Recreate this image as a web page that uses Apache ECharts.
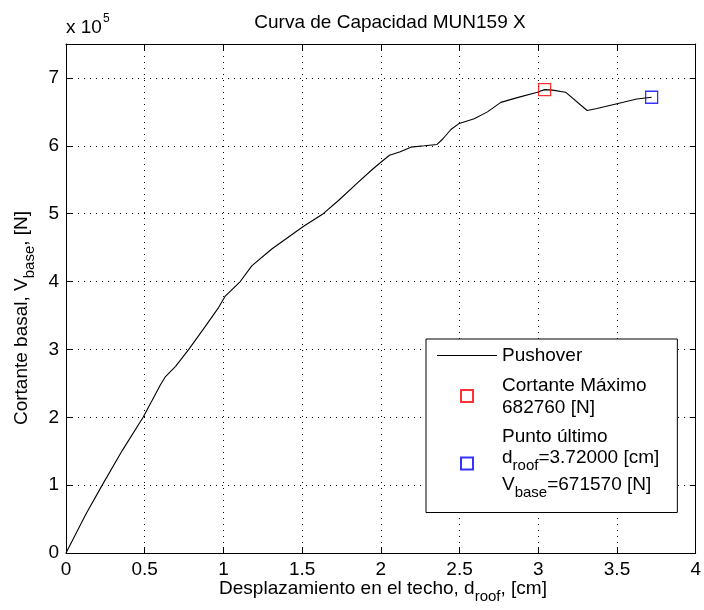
<!DOCTYPE html>
<html>
<head>
<meta charset="utf-8">
<script src="https://cdn.jsdelivr.net/npm/echarts@6/dist/echarts.min.js"></script>
<style>
  html, body { margin: 0; padding: 0; background: #fff; }
  #chart { width: 704px; height: 610px; }
</style>
</head>
<body>
<div id="chart"></div>
<script>
// Pushover capacity curve: roof displacement [cm] against base shear [N]
const displacementCm = [
  0, 0.126, 0.23, 0.36, 0.49, 0.60, 0.632, 0.696, 0.78, 0.885, 0.97, 1.01,
  1.107, 1.18, 1.307, 1.507, 1.634, 1.729, 1.855, 1.94, 1.996, 2.055, 2.119,
  2.19, 2.277, 2.357, 2.393, 2.445, 2.498, 2.593, 2.677, 2.762, 2.867, 2.994,
  3.04, 3.09, 3.173, 3.31, 3.373, 3.5, 3.626, 3.72
];
const baseShearN = [
  0, 57000, 100000, 152000, 200000, 248000, 260000, 275000, 300000, 334000, 362000, 378000,
  400000, 423000, 448000, 481000, 500000, 519000, 546000, 564000, 575000, 586000, 591000,
  598000, 600000, 602000, 610000, 624000, 633000, 640000, 650000, 664000, 671000, 679000,
  682760, 682000, 679000, 652000, 655000, 662000, 669000, 671570
];

// Maximum base shear
const maxPointCm = [3.04];
const maxPointN = [682760];

// Ultimate point
const ultimatePointCm = [3.72];
const ultimatePointN = [671570];

// Axis tick labels
const xTickLabels = ['0', '0.5', '1', '1.5', '2', '2.5', '3', '3.5', '4'];
const yTickLabels = ['0', '1', '2', '3', '4', '5', '6', '7'];

const FONT = '"Liberation Sans", Arial, Helvetica, sans-serif';
const BIG = 19;
const SMALL = 15;

// Rich-text styles: main text, subscript, superscript
const textRich = {
  m: { fontFamily: FONT, fontSize: BIG, fill: '#000', verticalAlign: 'top', padding: [2, 0, 0, 0], lineHeight: 22 },
  s: { fontFamily: FONT, fontSize: SMALL, fill: '#000', verticalAlign: 'top', padding: [12, 0, 0, 0], lineHeight: 27 },
  mx: { fontFamily: FONT, fontSize: BIG, fill: '#000', verticalAlign: 'top', padding: [6, 0, 0, 0], lineHeight: 26 },
  p: { fontFamily: FONT, fontSize: 12, fill: '#000', verticalAlign: 'top', padding: [1, 0, 0, 1], lineHeight: 26 }
};

const legendRich = {
  m: { fontFamily: FONT, fontSize: BIG, color: '#000', verticalAlign: 'top', padding: [2, 0, 0, 0], lineHeight: 22 },
  n: { fontFamily: FONT, fontSize: BIG, color: '#000', verticalAlign: 'top', padding: [2, 0, 0, 0], lineHeight: 21 },
  s: { fontFamily: FONT, fontSize: SMALL, color: '#000', verticalAlign: 'top', padding: [12, 0, 0, 0], lineHeight: 27 },
  t: { fontFamily: FONT, fontSize: SMALL, color: '#000', verticalAlign: 'top', padding: [12, 0, 0, 0], lineHeight: 28 }
};

const chart = echarts.init(document.getElementById('chart'), null, { renderer: 'canvas' });

const gridLine = { show: true, lineStyle: { color: '#000', width: 1, type: [1, 5] } };
const axisLine = { show: true, onZero: false, lineStyle: { color: '#000', width: 1 } };
const innerTick = { show: true, inside: true, length: 6, lineStyle: { color: '#000', width: 1 } };

chart.setOption({
  animation: false,
  backgroundColor: '#fff',
  grid: { left: 66, right: 5, top: 44, bottom: 57, containLabel: false },
  xAxis: [
    {
      type: 'value', min: 0, max: 4, interval: 0.5, position: 'bottom',
      axisLine: axisLine, axisTick: innerTick, splitLine: gridLine,
      axisLabel: {
        margin: 7, color: '#000', fontFamily: FONT, fontSize: BIG,
        formatter: v => xTickLabels[Math.round(v / 0.5)] ?? ''
      }
    },
    {
      type: 'value', min: 0, max: 4, interval: 0.5, position: 'top',
      axisLine: axisLine, axisTick: innerTick, splitLine: { show: false }, axisLabel: { show: false }
    }
  ],
  yAxis: [
    {
      type: 'value', min: 0, max: 750000, interval: 100000, position: 'left',
      axisLine: axisLine, axisTick: innerTick, splitLine: gridLine,
      axisLabel: {
        margin: 7, color: '#000', fontFamily: FONT, fontSize: BIG, showMaxLabel: false,
        formatter: v => yTickLabels[Math.round(v / 100000)] ?? ''
      }
    },
    {
      type: 'value', min: 0, max: 750000, interval: 100000, position: 'right',
      axisLine: axisLine, axisTick: innerTick, splitLine: { show: false }, axisLabel: { show: false }
    }
  ],
  legend: {
    orient: 'vertical',
    left: 426,
    top: 339,
    align: 'left',
    padding: [5.5, 18, 12, 11],
    itemGap: 8.5,
    itemWidth: 60,
    itemHeight: 12,
    symbolKeepAspect: true,
    backgroundColor: '#fff',
    borderColor: '#000',
    borderWidth: 1,
    borderRadius: 0,
    selectedMode: false,
    data: [
      { name: 'Pushover', icon: 'path://M0,0H60V1.2H0Z' },
      { name: 'Cortante Máximo', icon: 'path://M0,0H12V12H0Z' },
      { name: 'Punto último', icon: 'path://M0,0H12V12H0Z' }
    ],
    textStyle: { fontFamily: FONT, fontSize: BIG, color: '#000', rich: legendRich },
    formatter: name => {
      if (name === 'Pushover') return '{m|Pushover}';
      if (name === 'Cortante Máximo') {
        return '{m|Cortante Máximo}\n{m|' + maxPointN[0] + ' [N]}';
      }
      return '{n|Punto último}\n{m|d}{s|roof}{m|=' + ultimatePointCm[0].toFixed(5) + ' [cm]}\n' +
             '{m|V}{t|base}{m|=' + ultimatePointN[0] + ' [N]}';
    }
  },
  graphic: [
    {
      type: 'text', x: 390, y: 23, silent: true,
      style: { text: 'Curva de Capacidad MUN159 X', fontFamily: FONT, fontSize: BIG, fill: '#000', align: 'center', verticalAlign: 'middle' }
    },
    {
      type: 'text', x: 66, y: 12, silent: true,
      style: { text: '{mx|x 10}{p|5}', rich: textRich, align: 'left', verticalAlign: 'top' }
    },
    {
      type: 'text', x: 383, y: 577.5, silent: true,
      style: { text: '{m|Desplazamiento en el techo, d}{s|roof}{m|, [cm]}', rich: textRich, align: 'center', verticalAlign: 'top' }
    },
    {
      type: 'text', x: 10, y: 318, rotation: Math.PI / 2, silent: true,
      style: { text: '{m|Cortante basal, V}{s|base}{m|, [N]}', rich: textRich, align: 'center', verticalAlign: 'top' }
    }
  ],
  series: [
    {
      name: 'Pushover',
      type: 'line',
      xAxisIndex: 0, yAxisIndex: 0,
      data: displacementCm.map((d, i) => [d, baseShearN[i]]),
      symbol: 'none',
      lineStyle: { color: '#000', width: 1.1 },
      itemStyle: { color: '#000' },
      silent: true,
      z: 2
    },
    {
      name: 'Cortante Máximo',
      type: 'scatter',
      xAxisIndex: 0, yAxisIndex: 0,
      data: maxPointCm.map((d, i) => [d, maxPointN[i]]),
      symbol: 'rect',
      symbolSize: 12,
      itemStyle: { color: 'rgba(255,255,255,0)', borderColor: '#ff0000', borderWidth: 1.3 },
      silent: true,
      z: 3
    },
    {
      name: 'Punto último',
      type: 'scatter',
      xAxisIndex: 0, yAxisIndex: 0,
      data: ultimatePointCm.map((d, i) => [d, ultimatePointN[i]]),
      symbol: 'rect',
      symbolSize: 12,
      itemStyle: { color: 'rgba(255,255,255,0)', borderColor: '#0000ff', borderWidth: 1.3 },
      silent: true,
      z: 3
    }
  ]
});
</script>
</body>
</html>
